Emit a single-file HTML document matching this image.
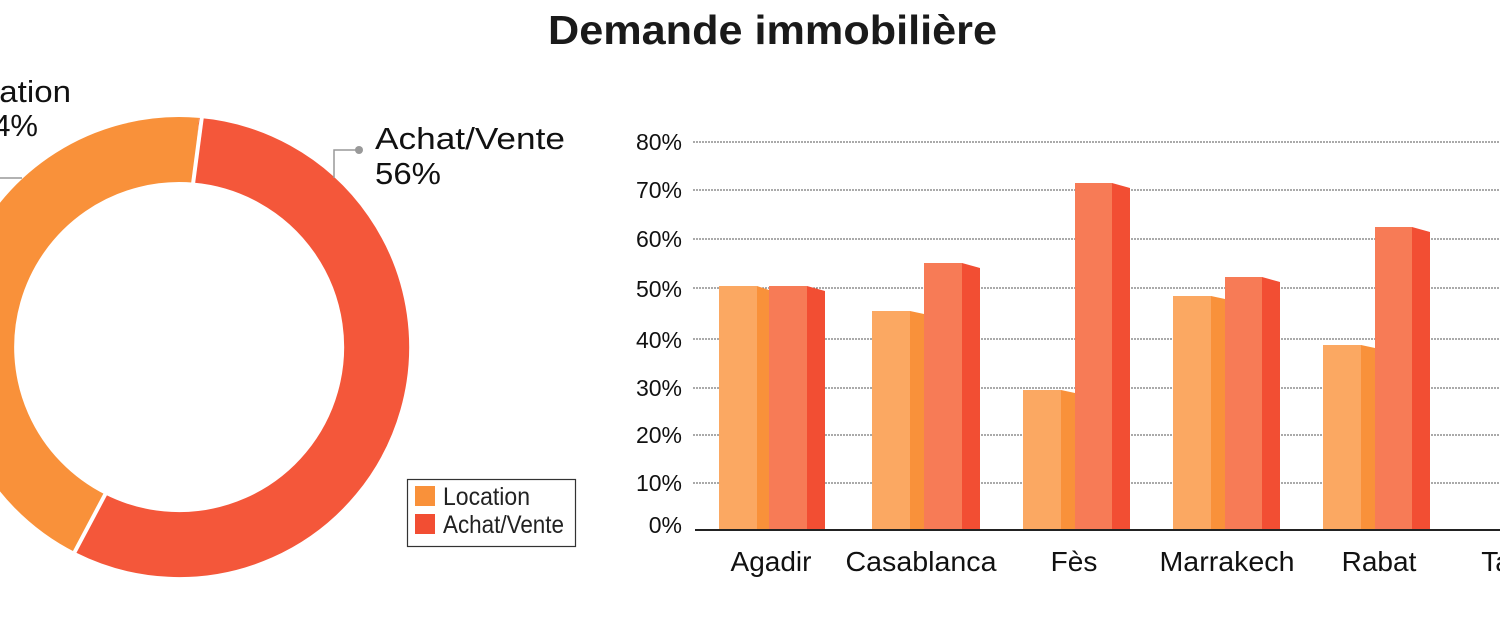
<!DOCTYPE html><html><head><style>body{margin:0;background:#fff}svg{display:block}text{font-family:"Liberation Sans",sans-serif}</style></head><body>
<svg width="1500" height="619" viewBox="0 0 1500 619" xmlns="http://www.w3.org/2000/svg">
<text x="548" y="44" font-size="41" font-weight="bold" fill="#1a1a1a" textLength="449" lengthAdjust="spacingAndGlyphs">Demande immobilière</text>
<path d="M196.2 150.3 A197.5 197.5 0 1 1 90.6 523.6" fill="none" stroke="#F4573A" stroke-width="65"/>
<path d="M90.6 523.6 A197.5 197.5 0 0 1 196.2 150.3" fill="none" stroke="#F9913A" stroke-width="65"/>
<line x1="202" y1="116" x2="193" y2="184" stroke="#fff" stroke-width="4"/>
<line x1="107" y1="491" x2="72" y2="557" stroke="#fff" stroke-width="4"/>
<text x="71" y="102" font-size="31" text-anchor="end" fill="#111" textLength="125" lengthAdjust="spacingAndGlyphs">Location</text>
<text x="38" y="136" font-size="31" text-anchor="end" fill="#111">44%</text>
<line x1="0" y1="178" x2="22" y2="178" stroke="#999" stroke-width="1.5"/>
<text x="375" y="149" font-size="31" fill="#111" textLength="190" lengthAdjust="spacingAndGlyphs">Achat/Vente</text>
<text x="375" y="184" font-size="31" fill="#111" textLength="66" lengthAdjust="spacingAndGlyphs">56%</text>
<circle cx="359" cy="150" r="4" fill="#999"/>
<polyline points="359,150 334,150 334,178" fill="none" stroke="#999" stroke-width="1.5"/>
<rect x="407.5" y="479.5" width="168" height="67" fill="#fff" stroke="#333" stroke-width="1.2"/>
<rect x="415" y="486" width="20" height="20" fill="#F9913A"/>
<rect x="415" y="514" width="20" height="20" fill="#F24E33"/>
<text x="443" y="505" font-size="25" fill="#222" textLength="87" lengthAdjust="spacingAndGlyphs">Location</text>
<text x="443" y="533" font-size="25" fill="#222" textLength="121" lengthAdjust="spacingAndGlyphs">Achat/Vente</text>
<g stroke="#555" stroke-width="1" stroke-dasharray="2,1">
<line x1="693" y1="142" x2="1500" y2="142"/><line x1="693" y1="190" x2="1500" y2="190"/><line x1="693" y1="239" x2="1500" y2="239"/><line x1="693" y1="288" x2="1500" y2="288"/><line x1="693" y1="339" x2="1500" y2="339"/><line x1="693" y1="388" x2="1500" y2="388"/><line x1="693" y1="435" x2="1500" y2="435"/><line x1="693" y1="483" x2="1500" y2="483"/>
</g>
<g font-size="23" fill="#111" text-anchor="end">
<text x="682" y="150">80%</text><text x="682" y="198">70%</text><text x="682" y="247">60%</text><text x="682" y="297">50%</text><text x="682" y="348">40%</text><text x="682" y="396">30%</text><text x="682" y="443">20%</text><text x="682" y="491">10%</text><text x="682" y="533">0%</text>
</g>
<g>
<rect x="719" y="286" width="38" height="244" fill="#FBA862"/><polygon points="757,286 769,290 769,530 757,530" fill="#F9913A"/>
<rect x="769" y="286" width="38" height="244" fill="#F77B56"/><polygon points="807,286 825,291 825,530 807,530" fill="#F24E33"/>
<rect x="872" y="311" width="38" height="219" fill="#FBA862"/><polygon points="910,311 924,314 924,530 910,530" fill="#F9913A"/>
<rect x="924" y="263" width="38" height="267" fill="#F77B56"/><polygon points="962,263 980,268 980,530 962,530" fill="#F24E33"/>
<rect x="1023" y="390" width="38" height="140" fill="#FBA862"/><polygon points="1061,390 1075,393 1075,530 1061,530" fill="#F9913A"/>
<rect x="1075" y="183" width="37" height="347" fill="#F77B56"/><polygon points="1112,183 1130,188 1130,530 1112,530" fill="#F24E33"/>
<rect x="1173" y="296" width="38" height="234" fill="#FBA862"/><polygon points="1211,296 1225,299 1225,530 1211,530" fill="#F9913A"/>
<rect x="1225" y="277" width="37" height="253" fill="#F77B56"/><polygon points="1262,277 1280,282 1280,530 1262,530" fill="#F24E33"/>
<rect x="1323" y="345" width="38" height="185" fill="#FBA862"/><polygon points="1361,345 1375,348 1375,530 1361,530" fill="#F9913A"/>
<rect x="1375" y="227" width="37" height="303" fill="#F77B56"/><polygon points="1412,227 1430,232 1430,530 1412,530" fill="#F24E33"/>
</g>
<line x1="695" y1="530" x2="1500" y2="530" stroke="#222" stroke-width="2"/>
<g font-size="28" fill="#111" text-anchor="middle">
<text x="771" y="571">Agadir</text><text x="921" y="571" textLength="151" lengthAdjust="spacingAndGlyphs">Casablanca</text><text x="1074" y="571">Fès</text><text x="1227" y="571" textLength="135" lengthAdjust="spacingAndGlyphs">Marrakech</text><text x="1379" y="571">Rabat</text><text x="1524" y="571">Tanger</text>
</g>
</svg>
</body></html>
